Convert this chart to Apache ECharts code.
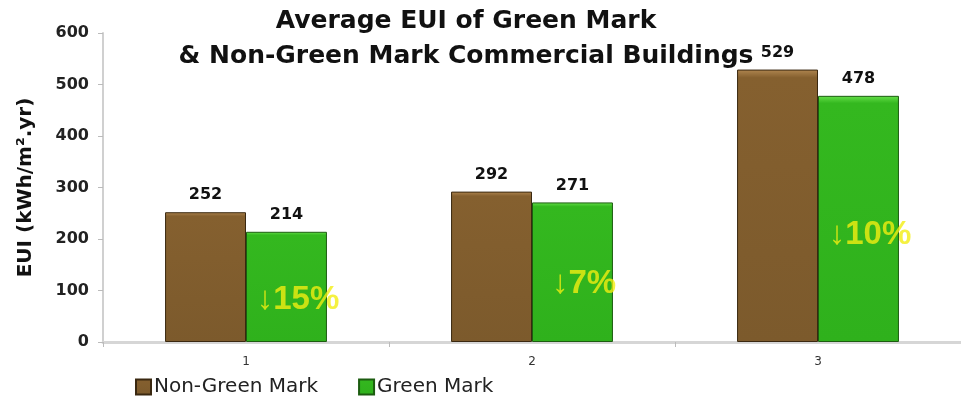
<!DOCTYPE html>
<html><head><meta charset="utf-8">
<script src="https://cdn.jsdelivr.net/npm/echarts@6/dist/echarts.min.js"></script>
<style>html,body{margin:0;padding:0;background:#fff}#c{width:961px;height:404px}</style>
</head><body><div id="c"></div>
<script>
var categories = ['1', '2', '3'];
var nonGreen = [252, 292, 529];
var green = [214, 271, 478];
var savingLabels = ['\u219315%', '\u21937%', '\u219310%'];
var savingLabelY = [82, 112, 208];
var yTicks = [0, 100, 200, 300, 400, 500, 600];

var chart = echarts.init(document.getElementById('c'));
var FONT = 'DejaVu Sans';
chart.setOption({
  animation: false,
  title: {
    text: 'Average EUI of Green Mark\n& Non-Green Mark Commercial Buildings',
    left: 461, top: -1, textAlign: 'center',
    textStyle: {fontFamily: FONT, fontWeight: 'bold', fontSize: 25, lineHeight: 35, color: '#111'}
  },
  legend: {
    left: 130, bottom: 2, itemWidth: 15, itemHeight: 15, itemGap: 40,
    icon: 'rect',
    textStyle: {fontFamily: FONT, fontSize: 20, color: '#222', padding: [0, 0, 0, -2]},
    data: ['Non-Green Mark', 'Green Mark']
  },
  grid: {left: 103, right: -5, top: 33, bottom: 62},
  xAxis: {
    type: 'category', data: categories,
    axisLine: {lineStyle: {color: '#d6d6d6', width: 3}},
    axisTick: {show: true, alignWithLabel: false, length: 5, lineStyle: {color: '#bbb'}},
    axisLabel: {fontFamily: FONT, fontSize: 12, color: '#333', margin: 14}
  },
  yAxis: {
    type: 'value', min: 0, max: 600, interval: 100,
    name: 'EUI (kWh/m\u00b2.yr)', nameLocation: 'middle', nameGap: 67,
    nameTextStyle: {fontFamily: FONT, fontWeight: 'bold', fontSize: 20, color: '#111'},
    axisLine: {show: true, lineStyle: {color: '#d0d0d0', width: 2}},
    axisTick: {show: true, length: 5, lineStyle: {color: '#bbb'}},
    splitLine: {show: false},
    axisLabel: {fontFamily: FONT, fontWeight: 'bold', fontSize: 16, color: '#222', margin: 14,
      formatter: function (v) { return yTicks.indexOf(v) >= 0 ? String(v) : ''; }}
  },
  series: [
    {
      name: 'Non-Green Mark', type: 'bar', data: nonGreen,
      barWidth: '28.3%', barGap: '0%',
      itemStyle: {
        color: new echarts.graphic.LinearGradient(0, 0, 0, 1, [
          {offset: 0, color: '#b08650'}, {offset: 0.03, color: '#85602f'}, {offset: 1, color: '#7c5a2c'}]),
        borderColor: '#3a2810', borderWidth: 1
      },
      label: {show: true, position: 'top', distance: 9, fontFamily: FONT, fontWeight: 'bold', fontSize: 16, color: '#111'}
    },
    {
      name: 'Green Mark', type: 'bar', data: green,
      barWidth: '28.3%', barGap: '0%',
      itemStyle: {
        color: new echarts.graphic.LinearGradient(0, 0, 0, 1, [
          {offset: 0, color: '#66e04a'}, {offset: 0.03, color: '#34b81f'}, {offset: 1, color: '#2fb11c'}]),
        borderColor: '#1c5c10', borderWidth: 1
      },
      label: {show: true, position: 'top', distance: 9, fontFamily: FONT, fontWeight: 'bold', fontSize: 16, color: '#111'}
    },
    {
      name: 'saving', type: 'scatter', symbolSize: 0, silent: true,
      data: savingLabelY.map(function (y, i) { return {value: [i, y], label: {formatter: savingLabels[i]}}; }),
      label: {show: true, position: 'inside', offset: [52, 0], fontFamily: 'Liberation Sans', fontWeight: 'bold', fontSize: 33, color: '#f2ee12'}
    }
  ]
});
</script></body></html>
